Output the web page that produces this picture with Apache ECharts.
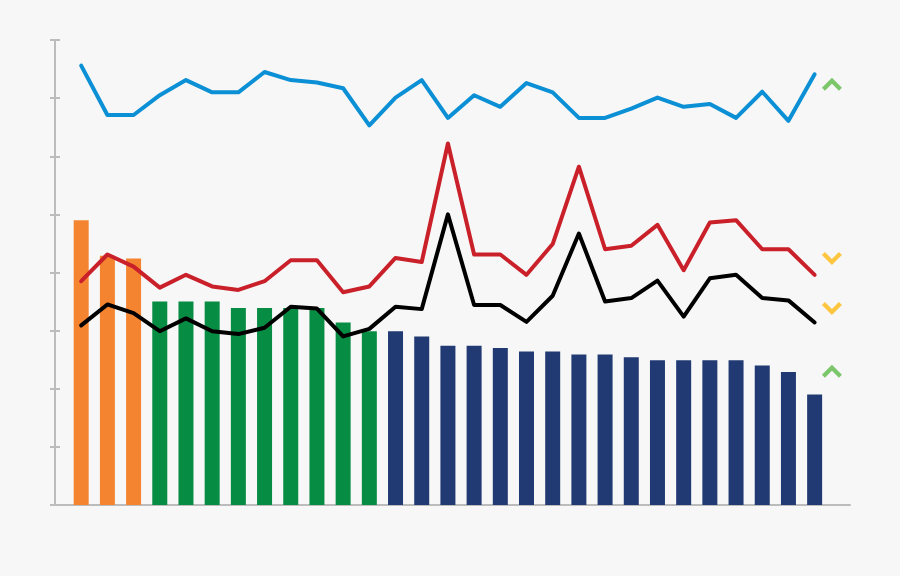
<!DOCTYPE html>
<html>
<head>
<meta charset="utf-8">
<script src="https://cdn.jsdelivr.net/npm/echarts@6/dist/echarts.min.js"></script>
<style>
html,body{margin:0;padding:0;background:#f7f7f7;}
#c{width:900px;height:576px;}
</style>
</head>
<body>
<div id="c"></div>
<script>
// Data
const barValues = [49.0, 42.9, 42.4, 35.0, 35.0, 35.0, 33.9, 33.9, 33.9, 33.9, 31.4, 29.9,
  29.9, 29.0, 27.4, 27.4, 27.0, 26.4, 26.4, 25.9, 25.9, 25.4, 24.9, 24.9, 24.9, 24.9, 24.0, 22.9, 19.0];
const groupCounts = [3, 9, 17];
const groupColors = ['#f58430', '#078c43', '#213a73'];
const blueLine = [75.6, 67.1, 67.1, 70.5, 73.1, 71.0, 71.0, 74.5, 73.1, 72.7, 71.7, 65.3, 70.1, 73.1, 66.6,
  70.5, 68.5, 72.6, 71.0, 66.6, 66.6, 68.2, 70.1, 68.5, 69.0, 66.6, 71.1, 66.1, 74.1];
const redLine = [38.5, 43.1, 41.0, 37.4, 39.6, 37.6, 37.0, 38.5, 42.1, 42.1, 36.6, 37.6, 42.5, 41.8, 62.2,
  43.1, 43.1, 39.6, 44.9, 58.2, 44.0, 44.6, 48.2, 40.4, 48.6, 49.0, 44.0, 44.0, 39.6];
const blackLine = [30.9, 34.5, 33.0, 29.9, 32.1, 29.9, 29.4, 30.5, 34.1, 33.8, 29.0, 30.3, 34.1, 33.7, 50.0,
  34.4, 34.4, 31.5, 36.0, 46.7, 35.0, 35.6, 38.6, 32.4, 39.0, 39.6, 35.6, 35.2, 31.4];
const arrowX = 28.66;
const arrowsUp = [72.4, 23.0];
const arrowsDown = [42.4, 33.8];
const yTicks = [0, 10, 20, 30, 40, 50, 60, 70, 80];

const barColorAt = [];
groupCounts.forEach((n, g) => { for (let k = 0; k < n; k++) barColorAt.push(groupColors[g]); });

const toXY = arr => arr.map((v, i) => [i, v]);

const upPath = 'path://M0,10 L10,0 L20,10 L17,13 L10,6 L3,13 Z';
const downPath = 'path://M0,3 L3,0 L10,7 L17,0 L20,3 L10,13 Z';

const chart = echarts.init(document.getElementById('c'), null, {renderer: 'canvas'});
const axisGray = '#bcbcbc';
chart.setOption({
  backgroundColor: '#f7f7f7',
  animation: false,
  grid: {left: 55, right: 50, top: 40, bottom: 71},
  xAxis: {
    type: 'value', min: -1, max: 29.35,
    axisLine: {show: true, onZero: false, lineStyle: {color: axisGray, width: 2}},
    axisTick: {show: false}, axisLabel: {show: false}, splitLine: {show: false}
  },
  yAxis: [{
    type: 'value', min: yTicks[0], max: yTicks[yTicks.length - 1], interval: 10,
    axisLine: {show: true, onZero: false, lineStyle: {color: axisGray, width: 2}},
    axisTick: {show: true, length: 5, lineStyle: {color: axisGray, width: 2}},
    axisLabel: {show: false}, splitLine: {show: false}
  }, {
    type: 'value', position: 'left', min: yTicks[0], max: yTicks[yTicks.length - 1], interval: 10,
    axisLine: {show: false, onZero: false},
    axisTick: {show: true, inside: true, length: 5, lineStyle: {color: axisGray, width: 2}},
    axisLabel: {show: false}, splitLine: {show: false}
  }],
  series: [
    {
      type: 'bar', barWidth: 15,
      data: barValues.map((v, i) => ({value: [i, v], itemStyle: {color: barColorAt[i]}}))
    },
    {type: 'line', data: toXY(blueLine), showSymbol: false, z: 3,
     lineStyle: {color: '#0b8fd5', width: 4, cap: 'round', join: 'round'}},
    {type: 'line', data: toXY(redLine), showSymbol: false, z: 3,
     lineStyle: {color: '#c9202a', width: 4, cap: 'round', join: 'round'}},
    {type: 'line', data: toXY(blackLine), showSymbol: false, z: 4,
     lineStyle: {color: '#000000', width: 4, cap: 'round', join: 'round'}},
    {type: 'scatter', symbol: upPath, symbolSize: [20, 13],
     itemStyle: {color: '#5cb947'}, data: arrowsUp.map(v => [arrowX, v])},
    {type: 'scatter', symbol: downPath, symbolSize: [20, 13],
     itemStyle: {color: '#fdb913'}, data: arrowsDown.map(v => [arrowX, v])}
  ]
});
</script>
</body>
</html>
